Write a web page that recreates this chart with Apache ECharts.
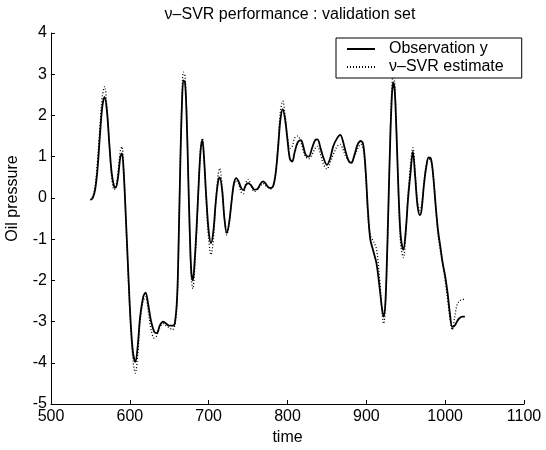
<!DOCTYPE html>
<html>
<head>
<meta charset="utf-8">
<script src="https://cdn.jsdelivr.net/npm/echarts@6/dist/echarts.min.js"></script>
<style>html,body{margin:0;padding:0;background:#fff}#c{width:546px;height:450px}</style>
</head>
<body>
<div id="c"></div>
<script>
var titleText = 'ν–SVR performance : validation set';
var xName = 'time';
var yName = 'Oil pressure';
var seriesNames = ['Observation y', 'ν–SVR estimate'];
var xTicks = [500, 600, 700, 800, 900, 1000, 1100];
var yTicks = [-5, -4, -3, -2, -1, 0, 1, 2, 3, 4];

var times = [550,553,556,559,562,565,568,571,574,577,580,582,585,588,590,592,595,598,601,604,607,610,613,617,620,623,627,631,634,638,642,646,650,654,657,660,662,664,666,668,670,672,674,676,678,680,682,685,688,690,692,694,697,700,703,706,709,712,714,717,720,723,726,729,732,735,738,741,744,747,750,754,758,762,766,769,772,776,779,782,785,788,791,794,797,800,803,806,809,813,817,820,823,827,831,835,838,842,846,850,854,858,863,867,870,874,878,881,885,889,893,896,899,902,905,909,913,917,920,922,924,926,928,930,932,934,936,938,940,942,944,947,950,953,956,959,962,965,968,970,973,976,979,982,985,988,991,994,997,1000,1003,1006,1009,1012,1015,1018,1022,1025];

var observation = [-0.05,0.0,0.2,0.7,1.5,2.2,2.45,2.1,1.3,0.6,0.28,0.25,0.5,1.0,1.08,0.7,-0.5,-1.8,-3.0,-3.75,-3.98,-3.6,-2.9,-2.4,-2.3,-2.55,-3.0,-3.25,-3.28,-3.1,-3.0,-3.05,-3.1,-3.1,-3.05,-2.4,-1.0,0.8,2.2,2.85,2.8,2.0,0.6,-0.8,-1.8,-2.0,-1.6,-0.6,0.6,1.2,1.4,1.0,0.0,-0.8,-1.1,-0.8,-0.1,0.4,0.5,0.2,-0.5,-0.85,-0.6,-0.1,0.35,0.48,0.4,0.25,0.19,0.3,0.36,0.3,0.2,0.22,0.35,0.4,0.35,0.25,0.24,0.3,0.6,1.2,1.9,2.15,1.9,1.4,0.95,0.88,1.1,1.35,1.4,1.25,1.05,1.0,1.2,1.4,1.42,1.2,0.95,0.8,0.95,1.25,1.45,1.53,1.4,1.1,0.88,0.85,1.05,1.3,1.38,1.3,0.7,-0.3,-1.0,-1.3,-1.6,-2.2,-2.7,-2.88,-2.6,-1.6,-0.2,1.2,2.3,2.8,2.6,1.7,0.6,-0.4,-1.0,-1.26,-0.8,0.0,0.6,1.12,0.5,-0.2,-0.42,-0.3,0.3,0.75,0.98,0.95,0.5,-0.2,-0.8,-1.2,-1.6,-1.9,-2.3,-2.8,-3.13,-3.1,-3.0,-2.92,-2.88,-2.88];

var estimate = [-0.05,0.05,0.3,0.9,1.7,2.45,2.7,2.2,1.3,0.5,0.2,0.25,0.6,1.15,1.24,0.8,-0.5,-1.9,-3.1,-3.95,-4.25,-3.8,-3.0,-2.5,-2.4,-2.7,-3.2,-3.4,-3.35,-3.15,-3.05,-3.1,-3.15,-3.2,-3.1,-2.5,-1.0,0.9,2.4,3.05,2.95,2.1,0.6,-0.9,-1.95,-2.2,-1.8,-0.7,0.6,1.25,1.45,1.0,-0.1,-1.0,-1.38,-1.0,-0.1,0.55,0.72,0.3,-0.5,-0.9,-0.6,-0.1,0.3,0.42,0.35,0.15,0.1,0.35,0.45,0.3,0.15,0.2,0.3,0.35,0.3,0.25,0.22,0.28,0.6,1.3,2.1,2.35,2.0,1.5,1.2,1.25,1.45,1.5,1.35,1.15,1.0,0.95,1.05,1.2,1.25,1.05,0.8,0.7,0.85,1.05,1.25,1.3,1.2,1.0,0.9,0.88,1.0,1.2,1.3,1.2,0.6,-0.4,-0.9,-1.05,-1.25,-2.0,-2.8,-3.05,-2.7,-1.7,-0.3,1.3,2.5,3.0,2.8,1.8,0.5,-0.6,-1.2,-1.45,-0.9,0.1,0.8,1.22,0.6,-0.1,-0.3,-0.2,0.35,0.8,0.95,0.9,0.5,-0.2,-0.9,-1.3,-1.6,-2.0,-2.45,-2.9,-3.2,-2.9,-2.6,-2.5,-2.47,-2.45];

function pairs(xs, ys) { return xs.map(function (x, i) { return [x, ys[i]]; }); }

var FONT = '"Liberation Sans", Arial, Helvetica, sans-serif';
var FS = 16;
var chart = echarts.init(document.getElementById('c'), null, { renderer: 'canvas' });
chart.setOption({
  backgroundColor: '#ffffff',
  animation: false,
  title: {
    text: titleText, left: 285, top: 2, textAlign: 'center',
    textStyle: { fontFamily: FONT, fontSize: FS, fontWeight: 'normal', color: '#000' }
  },
  legend: {
    left: 336, top: 38, orient: 'vertical',
    data: seriesNames,
    backgroundColor: '#fff', borderColor: '#000', borderWidth: 1, borderRadius: 0,
    padding: [3, 18, 3, 10], itemGap: 2, itemWidth: 28, itemHeight: 17,
    itemStyle: { opacity: 0 },
    textStyle: { fontFamily: FONT, fontSize: FS, color: '#000', padding: [0, 0, 0, 9] }
  },
  grid: { left: 51, right: 22, top: 33, bottom: 46, containLabel: false, outerBoundsMode: 'none' },
  xAxis: {
    type: 'value', min: xTicks[0], max: xTicks[xTicks.length - 1], interval: 100,
    name: xName, nameLocation: 'middle', nameGap: 26,
    nameTextStyle: { fontFamily: FONT, fontSize: FS, color: '#000' },
    axisLine: { onZero: false, lineStyle: { color: '#000', width: 1 } },
    axisTick: { inside: true, length: 4, lineStyle: { color: '#000' } },
    axisLabel: { fontFamily: FONT, fontSize: FS, color: '#000', margin: 5,
      formatter: function (v) { return String(v); } },
    splitLine: { show: false }
  },
  yAxis: {
    type: 'value', min: yTicks[0], max: yTicks[yTicks.length - 1], interval: 1,
    name: yName, nameLocation: 'middle', nameGap: 30,
    nameTextStyle: { fontFamily: FONT, fontSize: FS, color: '#000', padding: [0, 0, 0, 40] },
    axisLine: { show: true, onZero: false, lineStyle: { color: '#000', width: 1 } },
    axisTick: { show: true, inside: true, length: 4, lineStyle: { color: '#000' } },
    axisLabel: { fontFamily: FONT, fontSize: FS, color: '#000', margin: 4,
      formatter: function (v) { return String(v); } },
    splitLine: { show: false }
  },
  series: [
    {
      name: seriesNames[0], type: 'line', data: pairs(times, observation),
      smooth: 0.35, symbol: 'none', z: 3,
      lineStyle: { color: '#000', width: 1.8, type: 'solid' },
      itemStyle: { color: '#000' }
    },
    {
      name: seriesNames[1], type: 'line', data: pairs(times, estimate),
      smooth: 0.35, symbol: 'none', z: 2,
      lineStyle: { color: '#000', width: 1.3, type: [1, 2] },
      itemStyle: { color: '#000' }
    }
  ]
});
</script>
</body>
</html>
